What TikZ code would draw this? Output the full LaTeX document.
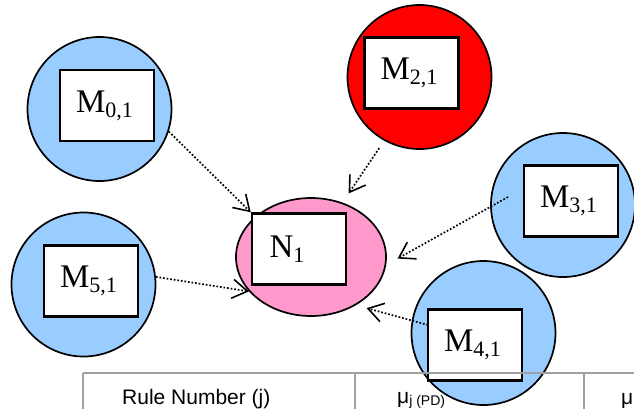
\documentclass[tikz,border=0pt]{standalone}
\usepackage{fontspec}
\setmainfont{Liberation Serif}
\newfontfamily\tabfont{Liberation Sans}
\usetikzlibrary{arrows.meta,shapes.geometric,calc}
\definecolor{lblue}{HTML}{99CCFF}
\definecolor{lred}{HTML}{FF0000}
\definecolor{lpink}{HTML}{FF99CC}
\definecolor{tgray}{HTML}{A0A0A0}
\newcommand{\mylbl}[2]{\fontsize{33}{33}\selectfont #1\raisebox{-5pt}{\fontsize{22}{22}\selectfont #2}}
\begin{document}
\begin{tikzpicture}[x=1pt,y=-1pt,
  ring/.style={circle,draw=black,line width=1.7pt,minimum size=144pt,inner sep=0pt},
  inbox/.style={rectangle,draw=black,fill=white,line width=2.4pt,minimum width=94pt,minimum height=71pt,inner sep=0pt},
  conn/.style={line width=1.7pt,dash pattern=on 1.7pt off 1.9pt,
    -{Straight Barb[length=15pt,width=19pt,line width=1.6pt]}},
  tabline/.style={draw=tgray,line width=2pt},
  tabtext/.style={anchor=base west,inner sep=0pt,font=\tabfont\fontsize{21}{21}\selectfont}
]
\useasboundingbox (0,0) rectangle (634,408);
\clip (0,0) rectangle (634,408);
% circles
\node[ring,fill=lblue] (m0) at (99.5,109) {};
\node[ring,fill=lred] (m2) at (419.5,77) {};
\node[ring,fill=lblue] (m3) at (563,205) {};
\node[ring,fill=lblue] (m5) at (83.5,284.5) {};
\node[ring,fill=lblue] (m4) at (483.5,333) {};
\node[ellipse,draw=black,fill=lpink,line width=1.7pt,minimum width=150pt,minimum height=118pt,inner sep=0pt] (n1) at (311,257) {};
% boxes
\node[inbox] (m0box) at (107,105.5) {\mylbl{M}{0,1}\hspace*{5pt}};
\node[inbox] (m2box) at (411.5,73) {\mylbl{M}{2,1}\hspace*{5pt}};
\node[inbox] (m3box) at (571,201) {\mylbl{M}{3,1}\hspace*{5pt}};
\node[inbox] (m5box) at (91,281) {\mylbl{M}{5,1}\hspace*{5pt}};
\node[inbox] (m4box) at (475,345) {\mylbl{M}{4,1}\hspace*{5pt}};
\node[inbox] (n1box) at (299,249) {\mylbl{N}{1}\hspace*{24pt}};
% connectors
\coordinate (s3) at (508,197);
\coordinate (s4) at (428,325);
\draw[conn] (m0.-18) -- (n1box.north west);
\draw[conn] (m5.6) -- (n1.209);
\draw[conn,shorten <=9pt,shorten >=11pt] (m2.241) -- (n1.60);
\draw[conn,shorten >=13pt] (s3) -- (n1.-6);
\draw[conn,shorten >=11pt] (s4) -- (n1.-47);
% table
\draw[tabline] (83,373) -- (640,373);
\draw[tabline] (83,373) -- (83,420);
\draw[tabline] (355,373) -- (355,420);
\draw[tabline] (584,373) -- (584,420);
\node[tabtext] (t1) at (122,404) {Rule Number (j)};
\node[tabtext] (t2) at (397,403) {μ\raisebox{-2.5pt}{\fontsize{14}{14}\selectfont j (PD)}};
\node[tabtext] (t3) at (621,404) {μ};
\end{tikzpicture}
\end{document}
